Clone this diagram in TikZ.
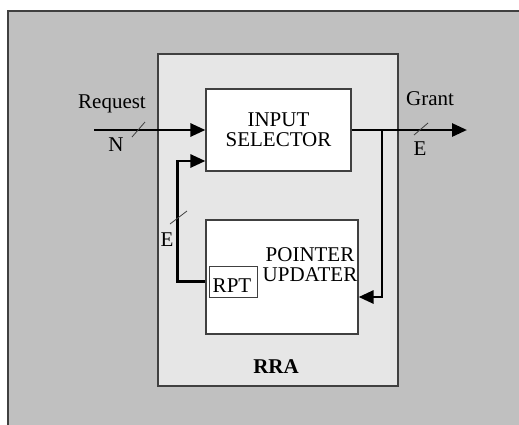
\documentclass[tikz,border=0pt]{standalone}
\usepackage{fontspec}
\setmainfont{Liberation Serif}
\usetikzlibrary{arrows.meta}
\definecolor{panelgray}{HTML}{C0C0C0}
\definecolor{blockgray}{HTML}{E6E6E6}
\definecolor{edgegray}{HTML}{404040}
\begin{document}
\begin{tikzpicture}[x=1pt,y=-1pt,
  every node/.style={font=\fontsize{21}{23}\selectfont, inner sep=0pt},
  block/.style={draw=edgegray, line width=1.2pt, fill=white},
  bus/.style={line width=2.8pt, -{Triangle[length=15pt,width=13pt]}},
  tick/.style={draw=edgegray, line width=0.8pt},
  lbl/.style={text=black}]
  \useasboundingbox (0,0) rectangle (519,424);
  \clip (0,0) rectangle (519,424);
  % background panel
  \draw[draw=edgegray, line width=1.4pt, fill=panelgray] (8,11) rectangle (540,440);
  % RRA container
  \node[draw=edgegray, line width=1.2pt, fill=blockgray, minimum width=240pt, minimum height=332pt] (rra) at (278,220) {};
  \node[font=\fontsize{21}{23}\selectfont\bfseries] (rralbl) at (276,367) {RRA};
  % functional blocks
  \node[block, minimum width=145pt, minimum height=82pt, align=center] (insel) at (278.5,130) {INPUT\\[-3pt]SELECTOR};
  \node[block, minimum width=152pt, minimum height=114pt] (ptr) at (282,277) {};
  \node[align=center] (ptrlbl) at (310,265) {POINTER\\[-3pt]UPDATER};
  \node[draw=edgegray, line width=1pt, fill=white, minimum width=48pt, minimum height=31pt] (rpt) at (233,281.5) {};
  \node (rptlbl) at (232,286) {RPT};
  % free ends of the buses
  \coordinate (reqin) at (94,130);
  \coordinate (grantout) at (467,130);
  \coordinate (tap) at (382,130);
  % request bus
  \draw[bus] (reqin) -- (insel.west);
  % grant bus and feedback to pointer updater
  \draw[bus] (insel.east) -- (grantout);
  \draw[bus] (tap) |- ([yshift=-20pt]ptr.east);
  % pointer feedback to the input selector
  \draw[bus] (rpt.west -| ptr.west) -- ++(-28,0) |- ([yshift=-31pt]insel.west);
  % bus-width ticks
  \draw[tick] (132,137) -- (145,122);
  \draw[tick] (414,135) -- (428,123);
  \draw[tick] (170,224) -- (187,211);
  % labels
  \node[lbl] (reqlbl) at (112,104) {Request};
  \node[lbl] (nlbl) at (116,145) {N};
  \node[lbl] (grantlbl) at (430,99) {Grant};
  \node[lbl] (elbl) at (420,149) {E};
  \node[lbl] (fblbl) at (167,240) {E};
\end{tikzpicture}
\end{document}
